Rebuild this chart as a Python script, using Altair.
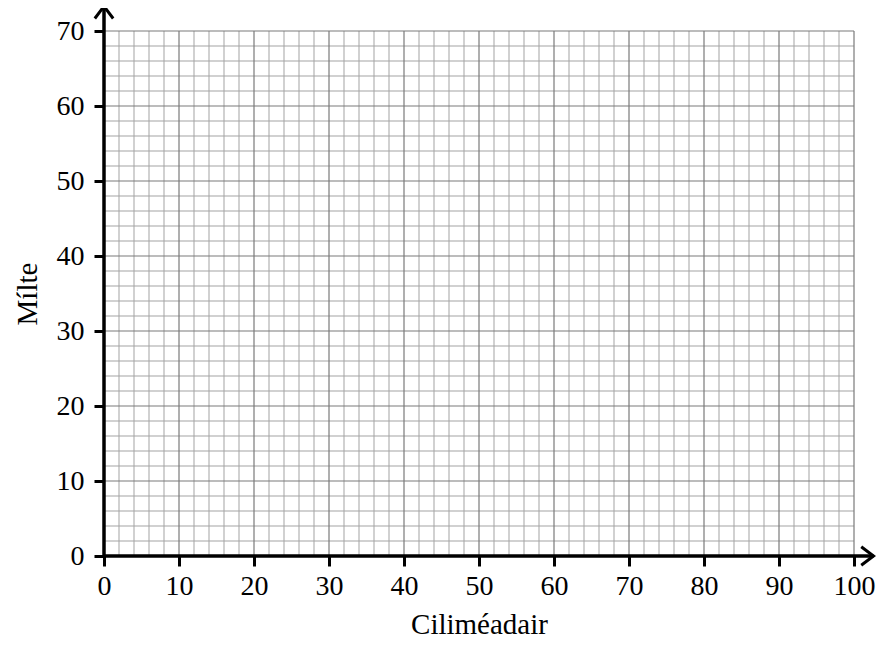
import altair as alt
import pandas as pd

# Axis ranges and tick labels
x_ticks = [0, 10, 20, 30, 40, 50, 60, 70, 80, 90, 100]
y_ticks = [0, 10, 20, 30, 40, 50, 60, 70]
x_min, x_max = 0, 100
y_min, y_max = 0, 70
minor_step = 2
x_arrow_tip = 102.6
y_arrow_tip = 73.3

minor_x = [v for v in range(x_min, x_max + 1, minor_step) if v % 10 != 0]
minor_y = [v for v in range(y_min, y_max + 1, minor_step) if v % 10 != 0]
major_x = [v for v in x_ticks if v != 0]
major_y = [v for v in y_ticks if v != 0]


def vlines(vals):
    return pd.DataFrame({"x": vals, "y": [y_min] * len(vals), "y2": [y_max] * len(vals)})


def hlines(vals):
    return pd.DataFrame({"y": vals, "x": [x_min] * len(vals), "x2": [x_max] * len(vals)})


FONT = "Liberation Serif"
xs = alt.Scale(domain=[x_min, x_max], nice=False, zero=False)
ys = alt.Scale(domain=[y_min, y_max], nice=False, zero=False)

x_axis = alt.Axis(values=x_ticks, grid=False, domain=False, tickSize=10, tickWidth=3,
                  tickColor="black", labelFont=FONT, labelFontSize=28, labelColor="black",
                  labelPadding=6, labelFlush=False, titleFont=FONT, titleFontSize=29,
                  titleFontWeight="normal", titleColor="black", titlePadding=10)
y_axis = alt.Axis(values=y_ticks, grid=False, domain=False, tickSize=10, tickWidth=3,
                  tickColor="black", labelFont=FONT, labelFontSize=28, labelColor="black",
                  labelPadding=10, labelFlush=False, titleFont=FONT, titleFontSize=29,
                  titleFontWeight="normal", titleColor="black", titlePadding=14)

X = alt.X("x:Q", scale=xs, axis=x_axis, title="Ciliméadair")
Y = alt.Y("y:Q", scale=ys, axis=y_axis, title="Mílte")

minor_v = alt.Chart(vlines(minor_x)).mark_rule(color="#a3a3a3", strokeWidth=1).encode(x=X, y=Y, y2="y2:Q")
minor_h = alt.Chart(hlines(minor_y)).mark_rule(color="#a3a3a3", strokeWidth=1).encode(x=X, x2="x2:Q", y=Y)
major_v = alt.Chart(vlines(major_x)).mark_rule(color="#7a7a7a", strokeWidth=1.2).encode(x=X, y=Y, y2="y2:Q")
major_h = alt.Chart(hlines(major_y)).mark_rule(color="#7a7a7a", strokeWidth=1.2).encode(x=X, x2="x2:Q", y=Y)

axis_x_line = alt.Chart(pd.DataFrame({"x": [x_min], "x2": [x_arrow_tip], "y": [y_min]})).mark_rule(
    color="black", strokeWidth=3.5).encode(x=X, x2="x2:Q", y=Y)
axis_y_line = alt.Chart(pd.DataFrame({"x": [x_min], "y": [y_min], "y2": [y_arrow_tip]})).mark_rule(
    color="black", strokeWidth=3.5).encode(x=X, y=Y, y2="y2:Q")

arrow_x = alt.Chart(pd.DataFrame({"x": [x_arrow_tip], "y": [y_min]})).mark_point(
    shape="M -1 -0.75 L 0 0 L -1 0.75", size=600, filled=False, color="black",
    strokeWidth=3, opacity=1).encode(x=X, y=Y)
arrow_y = alt.Chart(pd.DataFrame({"x": [x_min], "y": [y_arrow_tip]})).mark_point(
    shape="M -0.75 1 L 0 0 L 0.75 1", size=600, filled=False, color="black",
    strokeWidth=3, opacity=1).encode(x=X, y=Y)

chart = alt.layer(minor_v, minor_h, major_v, major_h, axis_x_line, axis_y_line, arrow_x, arrow_y).properties(
    width=750, height=525,
    autosize=alt.AutoSizeParams(type="none"),
    padding={"left": 96, "top": 23, "right": 24, "bottom": 85},
    background="white",
).configure_view(strokeWidth=0)

chart.save("out.html", embed_options={"renderer": "svg", "actions": False})
